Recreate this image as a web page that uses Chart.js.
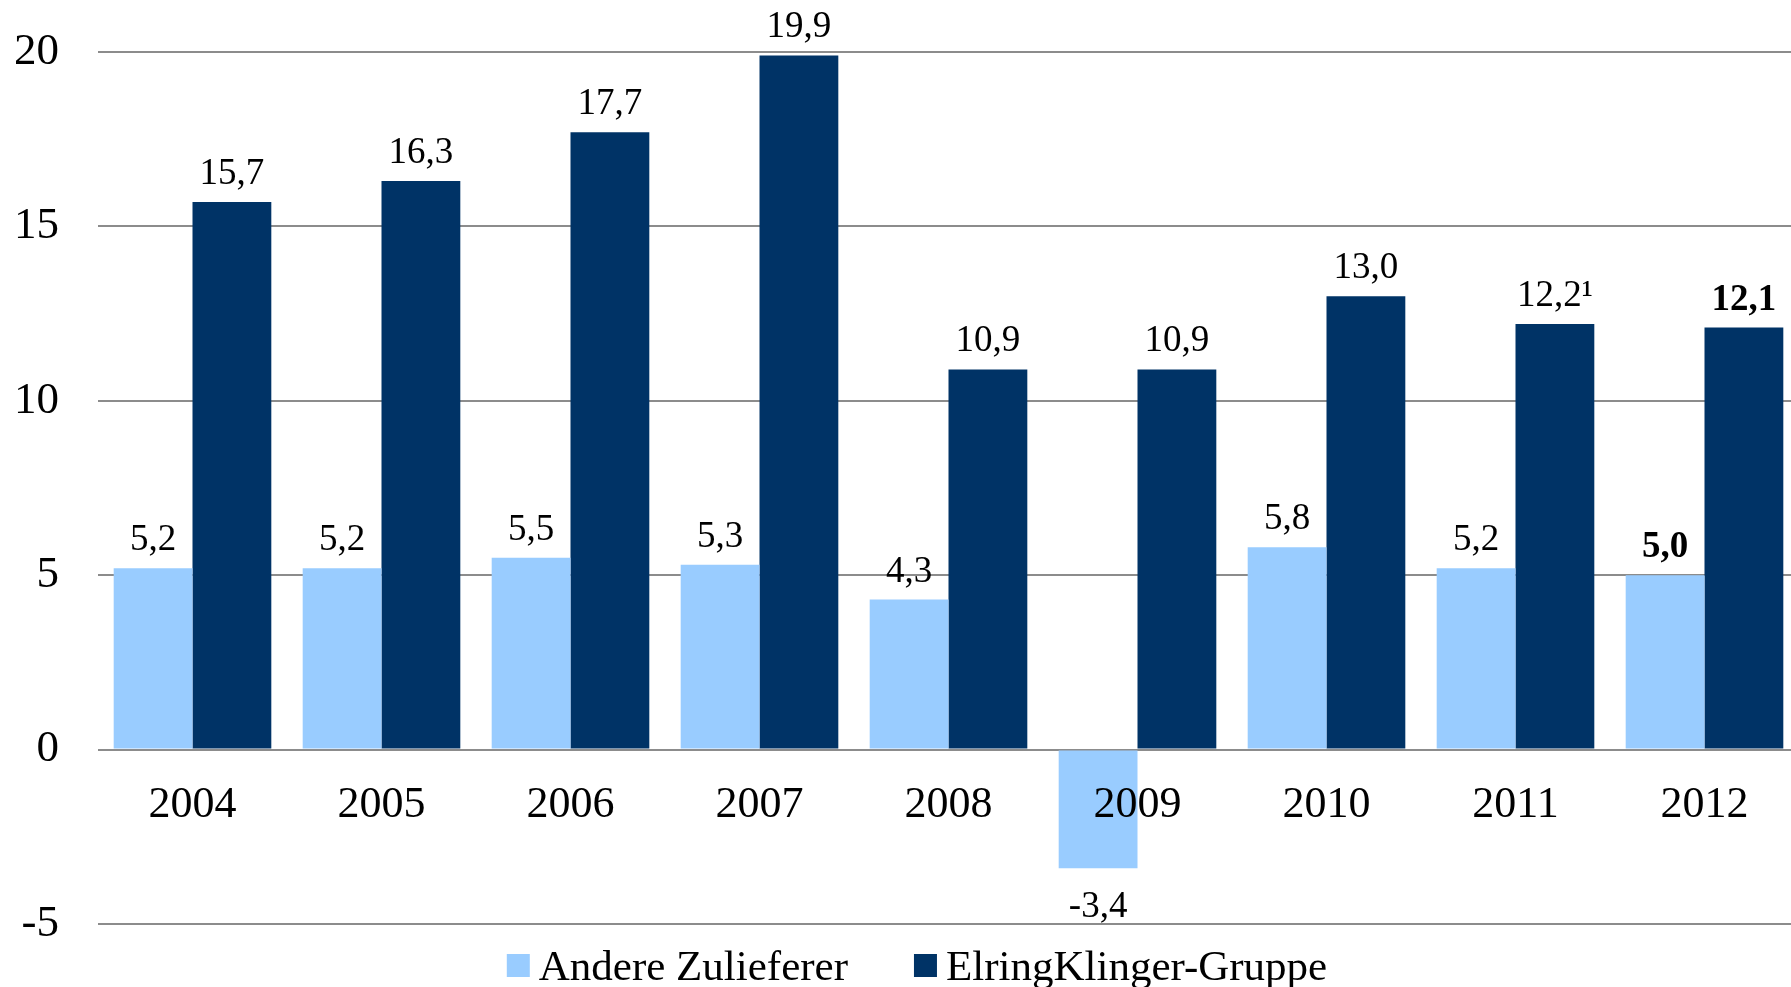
<!DOCTYPE html>
<html>
<head>
<meta charset="utf-8">
<script src="https://cdn.jsdelivr.net/npm/chart.js@4"></script>
<style>
  html, body { margin: 0; padding: 0; background: #fff; overflow: hidden; }
  #wrap { width: 1799px; height: 987px; position: relative; }
</style>
</head>
<body>
<div id="wrap"><canvas id="chart"></canvas></div>
<script>
const years = ['2004', '2005', '2006', '2007', '2008', '2009', '2010', '2011', '2012'];
const andereZulieferer = [5.2, 5.2, 5.5, 5.3, 4.3, -3.4, 5.8, 5.2, 5.0];
const elringKlinger = [15.7, 16.3, 17.7, 19.9, 10.9, 10.9, 13.0, 12.2, 12.1];
const elringNotes = ['', '', '', '', '', '', '', '\u00B9', ''];
const boldIndex = 8; // letztes Jahr fett
const yMin = -5, yMax = 20, yStep = 5;

const fontFamily = "'Liberation Serif', 'DejaVu Serif', serif";

function fmt(v) {
  return v.toFixed(1).replace('.', ',');
}

// Jahreszahlen an der Nulllinie, Wertelabels und Legende
const labelsPlugin = {
  id: 'labels',
  afterDatasetsDraw(chart) {
    const ctx = chart.ctx;
    const xs = chart.scales.x;
    const ys = chart.scales.y;
    ctx.save();
    ctx.fillStyle = '#000';
    ctx.textAlign = 'center';
    ctx.textBaseline = 'alphabetic';

    const zeroY = ys.getPixelForValue(0);
    ctx.font = '44px ' + fontFamily;
    years.forEach((yr, i) => {
      ctx.fillText(yr, xs.getPixelForValue(i), zeroY + 67);
    });

    chart.data.datasets.forEach((ds, di) => {
      const meta = chart.getDatasetMeta(di);
      meta.data.forEach((bar, i) => {
        const v = ds.data[i];
        const txt = fmt(v) + (di === 1 ? elringNotes[i] : '');
        ctx.font = (i === boldIndex ? 'bold ' : '') + '37px ' + fontFamily;
        const y = v >= 0 ? bar.y - 18 : bar.y + 49;
        ctx.fillText(txt, bar.x, y);
      });
    });

    // Legende
    ctx.font = '43px ' + fontFamily;
    ctx.textAlign = 'left';
    const box = 23, gap = 9, itemGap = 66;
    const items = chart.data.datasets.map(ds => ({
      text: ds.label,
      color: ds.backgroundColor,
      w: ctx.measureText(ds.label).width
    }));
    let total = 0;
    items.forEach((it, i) => { total += box + gap + it.w + (i > 0 ? itemGap : 0); });
    let x = 917 - total / 2;
    items.forEach(it => {
      ctx.fillStyle = it.color;
      ctx.fillRect(x, 954, box, box);
      ctx.fillStyle = '#000';
      ctx.fillText(it.text, x + box + gap, 980);
      x += box + gap + it.w + itemGap;
    });
    ctx.restore();
  }
};

new Chart(document.getElementById('chart'), {
  type: 'bar',
  data: {
    labels: years,
    datasets: [
      {
        label: 'Andere Zulieferer',
        data: andereZulieferer,
        backgroundColor: '#99CCFF',
        categoryPercentage: 0.834,
        barPercentage: 1.0
      },
      {
        label: 'ElringKlinger-Gruppe',
        data: elringKlinger,
        backgroundColor: '#003366',
        categoryPercentage: 0.834,
        barPercentage: 1.0
      }
    ]
  },
  options: {
    responsive: true,
    maintainAspectRatio: false,
    animation: false,
    layout: { padding: { top: 52, bottom: 63, left: 16, right: 0 } },
    plugins: {
      legend: { display: false },
      tooltip: { enabled: false }
    },
    scales: {
      x: { display: false },
      y: {
        min: yMin,
        max: yMax,
        border: { display: false },
        afterFit(scale) {
          scale.width = 82;
          scale.paddingTop = 0;
          scale.paddingBottom = 0;
        },
        grid: {
          color: '#8c8c8c',
          lineWidth: 2,
          drawTicks: false
        },
        ticks: {
          stepSize: yStep,
          padding: 39,
          color: '#000',
          font: { family: fontFamily, size: 45 },
          callback: v => String(v)
        }
      }
    }
  },
  plugins: [labelsPlugin]
});
</script>
</body>
</html>
